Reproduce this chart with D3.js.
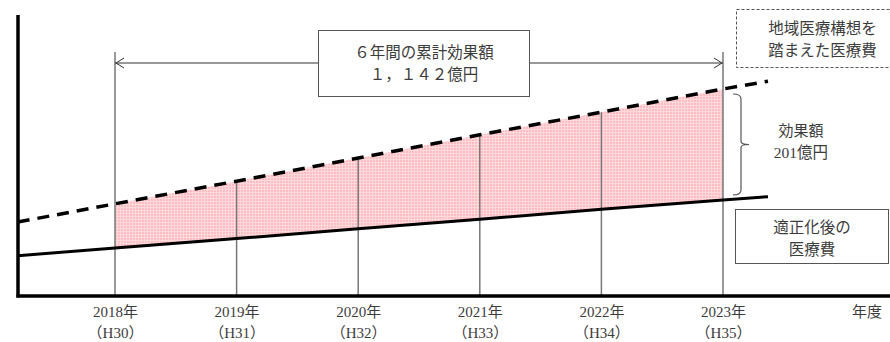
<!DOCTYPE html>
<html>
<head>
<meta charset="utf-8">
<script src="https://cdn.jsdelivr.net/npm/d3@7"></script>
<style>
  body { margin: 0; background: #fff; }
  svg { display: block; }
  text { font-family: "Liberation Serif", "Noto Sans CJK JP", serif; fill: #3c3c3c; }
</style>
</head>
<body>
<svg width="890" height="342"></svg>
<script>
// data (億円, schematic)
const years = [2018, 2019, 2020, 2021, 2022, 2023];
const yearLabels = ['2018年', '2019年', '2020年', '2021年', '2022年', '2023年'];
const eraLabels = ['（H30）', '（H31）', '（H32）', '（H33）', '（H34）', '（H35）'];
const planned = [167, 208, 250, 292, 333, 375];   // 地域医療構想を踏まえた医療費
const optimized = [87, 104, 122, 139, 157, 174];  // 適正化後の医療費
const lineYears = [2017.2, 2023.37];               // where the two lines start / stop
const plannedEnds = [134, 389];
const optimizedEnds = [73, 180];

(function () {
  const svg = d3.select('svg');
  const width = Number(svg.attr('width'));

  const x = d3.scaleLinear().domain([2018, 2023]).range([115, 723]);
  const y = d3.scaleLinear().domain([0, 500]).range([296, 20]);
  const axisX = 18;
  const axisY = y(0);

  // pink hatched fill
  const defs = svg.append('defs');
  const pat = defs.append('pattern')
    .attr('id', 'pink')
    .attr('width', 3).attr('height', 3)
    .attr('patternUnits', 'userSpaceOnUse');
  pat.append('rect').attr('width', 3).attr('height', 3).attr('fill', '#ffbcc3');
  pat.append('path').attr('d', 'M0,0.5H3M0.5,0V3').attr('stroke', '#ffdadd').attr('stroke-width', 1);

  const band = years.map((yr, i) => ({yr, lo: optimized[i], hi: planned[i]}));
  svg.append('path')
    .datum(band)
    .attr('fill', 'url(#pink)')
    .attr('d', d3.area().x(d => x(d.yr)).y0(d => y(d.lo)).y1(d => y(d.hi)));

  // vertical year lines
  const bracketY = 63;
  svg.append('g').selectAll('line')
    .data(years)
    .enter().append('line')
    .attr('x1', d => x(d)).attr('x2', d => x(d))
    .attr('y1', (d, i) => (i === 0 || i === years.length - 1) ? bracketY - 11 : y(planned[i]))
    .attr('y2', axisY)
    .attr('stroke', '#777')
    .attr('stroke-width', 1.5);

  // the two cost lines
  const line = d3.line().x(d => x(d[0])).y(d => y(d[1]));
  const plannedPts = [[lineYears[0], plannedEnds[0]], ...years.map((yr, i) => [yr, planned[i]]), [lineYears[1], plannedEnds[1]]];
  const optimizedPts = [[lineYears[0], optimizedEnds[0]], ...years.map((yr, i) => [yr, optimized[i]]), [lineYears[1], optimizedEnds[1]]];

  svg.append('path')
    .datum(plannedPts)
    .attr('fill', 'none')
    .attr('stroke', '#000')
    .attr('stroke-width', 3.5)
    .attr('stroke-dasharray', '12,8')
    .attr('d', line);

  svg.append('path')
    .datum(optimizedPts)
    .attr('fill', 'none')
    .attr('stroke', '#000')
    .attr('stroke-width', 3)
    .attr('d', line);

  // axes
  svg.append('line')
    .attr('x1', axisX).attr('x2', axisX)
    .attr('y1', 15).attr('y2', axisY + 1.5)
    .attr('stroke', '#000').attr('stroke-width', 3.5);
  svg.append('line')
    .attr('x1', axisX - 1.5).attr('x2', width)
    .attr('y1', axisY).attr('y2', axisY)
    .attr('stroke', '#000').attr('stroke-width', 3.5);

  const xAxis = svg.append('g')
    .attr('transform', `translate(0,${axisY})`)
    .call(d3.axisBottom(x).tickValues(years).tickSize(0).tickFormat((d, i) => yearLabels[i]));
  xAxis.select('.domain').remove();
  xAxis.selectAll('text')
    .attr('y', 21)
    .attr('dy', 0)
    .style('font-size', '15px')
    .style('fill', '#3c3c3c')
    .style('font-family', '"Liberation Serif", "Noto Sans CJK JP", serif');
  xAxis.selectAll('.tick').append('text')
    .attr('y', 42)
    .attr('text-anchor', 'middle')
    .style('font-size', '15px')
    .text((d, i) => eraLabels[i]);

  svg.append('text')
    .attr('x', 867).attr('y', axisY + 21)
    .attr('text-anchor', 'middle')
    .style('font-size', '15px')
    .text('年度');

  // double arrow between 2018 and 2023
  const x0 = x(years[0]);
  const x1 = x(years[years.length - 1]);
  svg.append('line')
    .attr('x1', x0).attr('x2', x1)
    .attr('y1', bracketY).attr('y2', bracketY)
    .attr('stroke', '#333').attr('stroke-width', 1);
  svg.append('path')
    .attr('d', `M${x0 + 9},${bracketY - 5}L${x0 + 1},${bracketY}L${x0 + 9},${bracketY + 5}` +
               `M${x1 - 9},${bracketY - 5}L${x1 - 1},${bracketY}L${x1 - 9},${bracketY + 5}`)
    .attr('fill', 'none').attr('stroke', '#333').attr('stroke-width', 1);

  // text box helper
  const box = function (bx, by, bw, bh, lines, dashed, ty) {
    svg.append('rect')
      .attr('x', bx).attr('y', by).attr('width', bw).attr('height', bh)
      .attr('fill', '#fff')
      .attr('stroke', '#555')
      .attr('stroke-width', 1)
      .attr('stroke-dasharray', dashed ? '3,2' : null);
    svg.append('g').selectAll('text')
      .data(lines)
      .enter().append('text')
      .attr('x', bx + bw / 2)
      .attr('y', (d, i) => ty + i * 22)
      .attr('text-anchor', 'middle')
      .style('font-size', '15.5px')
      .text(d => d);
  };

  box(318.5, 30.5, 211, 66, ['６年間の累計効果額', '１，１４２億円'], false, 58);
  box(736.5, 9.5, 172, 58, ['地域医療構想を', '踏まえた医療費'], true, 34);
  box(735.5, 209.5, 153, 54, ['適正化後の', '医療費'], false, 233);

  // brace for the 2023 gap
  const bt = y(planned[planned.length - 1]) + 5;
  const bb = y(optimized[optimized.length - 1]) - 5;
  const bm = (bt + bb) / 2;
  const bx = x1 + 18;
  svg.append('path')
    .attr('d', `M${x1 + 10},${bt}Q${bx},${bt} ${bx},${bt + 5}L${bx},${bm - 3}Q${bx},${bm} ${bx + 8},${bm}` +
               `Q${bx},${bm} ${bx},${bm + 3}L${bx},${bb - 5}Q${bx},${bb} ${x1 + 10},${bb}`)
    .attr('fill', 'none').attr('stroke', '#555').attr('stroke-width', 1.2);

  const gap = planned[planned.length - 1] - optimized[optimized.length - 1];
  svg.append('text')
    .attr('x', 801).attr('y', 136)
    .attr('text-anchor', 'middle')
    .style('font-size', '15px')
    .text('効果額');
  svg.append('text')
    .attr('x', 801).attr('y', 158)
    .attr('text-anchor', 'middle')
    .style('font-size', '15.5px')
    .text(gap + '億円');
})();
</script>
</body>
</html>
